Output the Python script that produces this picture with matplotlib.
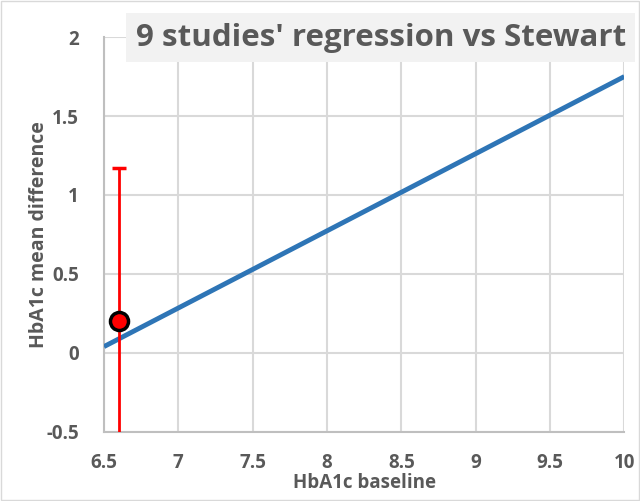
import numpy as np
import matplotlib.pyplot as plt
from matplotlib.patches import Rectangle

# regression line endpoints
line_x = [6.5, 10]
line_y = [0.04, 1.75]

# Stewart study
pt_x = [6.6]
pt_y = [0.2]
pt_err = [0.97]

xticks = [6.5, 7, 7.5, 8, 8.5, 9, 9.5, 10]
yticks = [-0.5, 0, 0.5, 1, 1.5, 2]

gray = '#595959'
plt.rcParams['font.family'] = ['Open Sans', 'DejaVu Sans']

fig = plt.figure(figsize=(6.4, 5.01), dpi=100)
fig.patches.append(Rectangle((0.002, 0.002), 0.996, 0.996, transform=fig.transFigure,
                             fill=False, edgecolor='#d9d9d9', lw=1))
ax = fig.add_axes([0.1625, 0.138, 0.813, 0.788])

ax.plot(line_x, line_y, color='#2e75b6', lw=3.5, solid_capstyle='butt', zorder=3)
ax.errorbar(pt_x, pt_y, yerr=pt_err, fmt='o', color='red', ecolor='red', elinewidth=2,
            capsize=5, capthick=2, markersize=13, markerfacecolor='red',
            markeredgecolor='black', markeredgewidth=2.5, zorder=4)

ax.set_xlim(6.5, 10)
ax.set_ylim(-0.5, 2)
ax.set_xticks(xticks)
ax.set_xticklabels([f'{t:g}' for t in xticks])
ax.set_yticks(yticks)
ax.set_yticklabels([f'{t:g}' for t in yticks])
ax.grid(True, color='#d9d9d9', lw=1.5)
ax.set_axisbelow(True)
for s in ax.spines.values():
    s.set_visible(False)
ax.spines['left'].set_visible(True)
ax.spines['bottom'].set_visible(True)
ax.spines['left'].set_color('#bfbfbf')
ax.spines['bottom'].set_color('#bfbfbf')
ax.spines['left'].set_linewidth(1.5)
ax.spines['bottom'].set_linewidth(1.5)
ax.tick_params(axis='x', length=0, pad=15, labelsize=13.5, labelcolor=gray)
ax.tick_params(axis='y', length=0, pad=18, labelsize=13.5, labelcolor=gray)
for lab in ax.get_xticklabels() + ax.get_yticklabels():
    lab.set_fontweight('bold')

ax.set_xlabel('HbA1c baseline', fontsize=13.5, fontweight='bold', color=gray, labelpad=0)
ax.set_ylabel('HbA1c mean difference', fontsize=14, fontweight='bold', color=gray, labelpad=-2)

fig.text(0.595, 0.925, "9 studies' regression vs Stewart", ha='center', va='center',
         fontsize=22.5, fontweight='bold', color=gray,
         bbox=dict(boxstyle='square,pad=0.3', facecolor='#f2f2f2', edgecolor='none'))

fig.savefig('out.png', dpi=100)
